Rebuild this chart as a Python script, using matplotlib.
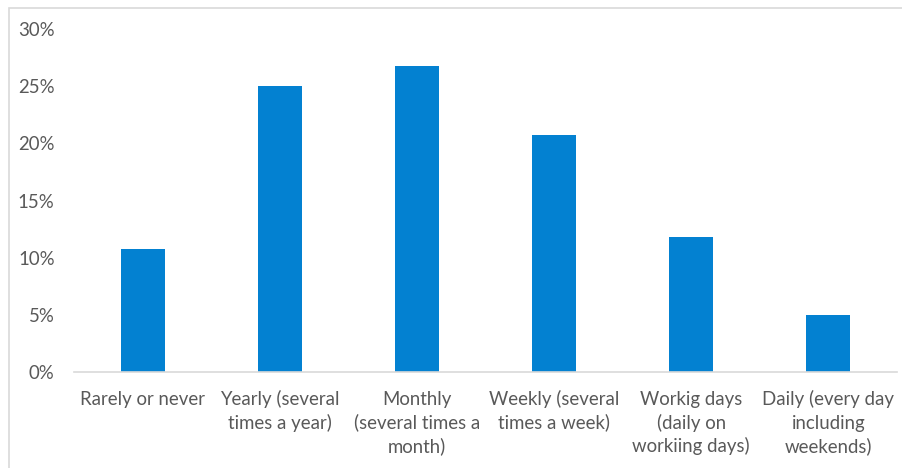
import matplotlib
matplotlib.use("Agg")
import matplotlib.pyplot as plt
from matplotlib.patches import Rectangle
from matplotlib.ticker import FuncFormatter

categories = [
    "Rarely or never",
    "Yearly (several\ntimes a year)",
    "Monthly\n(several times a\nmonth)",
    "Weekly (several\ntimes a week)",
    "Workig days\n(daily on\nworkiing days)",
    "Daily (every day\nincluding\nweekends)",
]
shares = [10.8, 25.0, 26.8, 20.7, 11.8, 5.0]
y_ticks = [0, 5, 10, 15, 20, 25, 30]

W, H = 903, 468
fig = plt.figure(figsize=(W / 100, H / 100), dpi=100)
fig.patch.set_facecolor("white")

# light frame along top and left edges
fig.add_artist(Rectangle((9 / W, -0.1), 1.2, (H - 8) / H + 0.1,
                         transform=fig.transFigure, fill=False,
                         edgecolor="#d9d9d9", linewidth=1.2))

ax = fig.add_axes([74 / W, 1 - 372 / H, (897 - 74) / W, (372 - 29) / H])
x = list(range(len(categories)))
ax.bar(x, shares, width=0.32, color="#0381d1", zorder=2)

ax.set_xlim(-0.5, len(categories) - 0.5)
ax.set_ylim(0, 30)
ax.set_yticks(y_ticks)
ax.yaxis.set_major_formatter(FuncFormatter(lambda v, p: f"{v:.0f}%"))
ax.set_xticks(x)
ax.set_xticklabels([])
ax.tick_params(axis="y", length=0, pad=14)
ax.tick_params(axis="x", length=0)

text_color = "#595959"
font = "Lato"
size = 13.4
for lbl in ax.get_yticklabels():
    lbl.set_fontfamily(font)
    lbl.set_fontsize(size)
    lbl.set_color(text_color)

# category labels: each line placed on its own baseline, Excel-style
first_baseline = 33
line_step = 23.5
for xi, label in zip(x, categories):
    for k, line in enumerate(label.split("\n")):
        ax.annotate(line, xy=(xi, 0), xycoords=("data", "axes fraction"),
                    xytext=(0, -(first_baseline + k * line_step)),
                    textcoords="offset pixels", ha="center", va="baseline",
                    fontfamily=font, fontsize=size, color=text_color,
                    annotation_clip=False)

for side in ("top", "right", "left"):
    ax.spines[side].set_visible(False)
ax.spines["bottom"].set_color("#d9d9d9")
ax.spines["bottom"].set_linewidth(1.2)

fig.savefig("out.png", dpi=100)
